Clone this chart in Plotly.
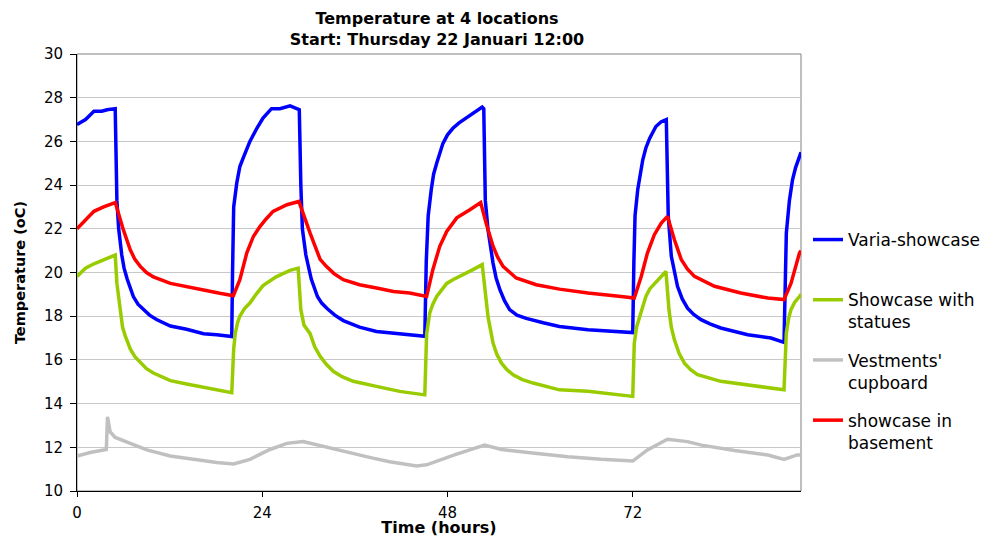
import plotly.graph_objects as go

# ---- data ----
varia_t = [0, 1.1, 2.2, 3.2, 3.9, 4.7, 4.95, 5.17, 5.4, 5.8, 6.1, 6.5, 7.3, 7.9, 8.6, 9.4, 10.3, 12.1, 14.2, 16.4, 18.1,
           19.8, 20.05,
           20.15, 20.3, 20.7, 21.1, 21.6, 22.0, 22.4, 23.3, 24.1, 25.2, 26.3, 27.6, 28.5, 28.8, 29.0, 29.2, 29.65,
           30.0, 30.35, 31.15, 31.7, 32.4, 33.4, 34.5, 36.6, 38.8, 41.0, 43.1, 45.06, 45.25, 45.5, 45.9, 46.2, 46.6,
           47.0, 47.4, 48.0, 48.7, 49.5, 50.45, 51.75, 52.5, 52.7,
           52.9, 53.25, 53.6, 53.9, 54.3, 54.8, 55.4, 56.05, 57.0, 58.2, 60.4, 62.5, 66.2, 70.5, 72.0, 72.15, 72.3,
           72.65, 73.0, 73.3, 73.7, 74.2, 75.0, 75.7, 76.35, 76.6, 77.0, 77.4, 77.8, 78.4, 79.1, 79.9, 80.85, 82.0,
           83.4, 86.9, 89.9, 91.6, 91.75, 91.9, 92.3, 92.7, 93.1, 93.6, 93.8]
varia_v = [26.77, 27.0, 27.38, 27.38, 27.45, 27.5, 27.5, 23.3, 22.0, 20.8, 20.2, 19.7, 18.9, 18.55, 18.3, 18.05, 17.85,
           17.55, 17.4, 17.2, 17.15, 17.1, 17.07,
           20.0, 23.0, 24.1, 24.85, 25.3, 25.7, 26.0, 26.6, 27.07, 27.5, 27.5, 27.63, 27.5, 27.45, 24.0, 22.0, 20.8,
           20.2, 19.7, 18.9, 18.6, 18.35, 18.05, 17.8, 17.5, 17.3, 17.23, 17.15, 17.08, 20.5, 22.6, 23.8, 24.5, 25.0,
           25.5, 25.9, 26.3, 26.6, 26.85, 27.07, 27.37, 27.57, 27.5,
           23.3, 21.96, 21.0, 20.43, 19.75, 19.2, 18.7, 18.3, 18.05, 17.9, 17.7, 17.53, 17.38, 17.3, 17.25, 20.5, 22.6,
           23.8, 24.6, 25.16, 25.7, 26.15, 26.68, 26.9, 27.0, 22.6, 20.74, 19.95, 19.37, 18.8, 18.37, 18.08, 17.84,
           17.65, 17.46, 17.15, 17.0, 16.8, 19.5, 21.8, 23.3, 24.24, 24.8, 25.3, 25.5]

statues_t = [0, 1.1, 2.2, 3.45, 4.74, 4.95, 5.17, 5.6, 5.9, 6.25, 6.9, 7.5, 8.2, 9.0, 9.9, 12.1, 14.2, 16.4, 18.5,
             20.05, 20.3, 20.5, 20.8, 21.1, 21.7, 22.4, 23.2, 24.1, 25.8, 27.6, 28.65, 29.0, 29.4, 30.2, 30.8, 31.5,
             32.3, 33.2, 34.4, 35.8, 38.8, 41.8, 45.06, 45.3, 45.7, 46.1, 46.6, 47.2, 47.9, 48.7, 49.6, 51.3, 52.5,
             52.8, 53.25, 53.9, 54.4, 55.0, 55.7, 56.5, 57.7, 59.1, 62.5, 66.2, 70.5, 72.0, 72.2, 72.5, 72.9, 73.3,
             73.7, 74.2, 74.8, 75.9, 76.3, 76.7, 77.0, 77.4, 78.0, 78.7, 79.5, 80.4, 83.4, 86.9, 91.6, 91.9, 92.2, 92.5,
             93.0, 93.6, 93.8]
statues_v = [19.82, 20.2, 20.4, 20.6, 20.8, 20.8, 19.5, 18.15, 17.5, 17.1, 16.5, 16.15, 15.9, 15.6, 15.4, 15.05, 14.9,
             14.75, 14.6, 14.5, 16.5, 17.2, 17.7, 18.0, 18.35, 18.6, 19.0, 19.4, 19.8, 20.1, 20.2, 18.3, 17.6, 17.2,
             16.6, 16.16, 15.8, 15.48, 15.22, 15.02, 14.79, 14.56, 14.4, 17.2, 18.15, 18.55, 18.9, 19.2, 19.5, 19.67,
             19.82, 20.13, 20.36, 19.5, 17.98, 16.77, 16.25, 15.85, 15.55, 15.32, 15.1, 14.94, 14.63, 14.56, 14.4,
             14.33, 16.76, 17.5, 17.98, 18.5, 18.9, 19.25, 19.5, 19.9, 20.05, 18.28, 17.5, 16.92, 16.3, 15.85, 15.55,
             15.32, 15.02, 14.86, 14.63, 17.22, 17.9, 18.3, 18.65, 18.9, 19.0]

vestments_t = [0, 1.7, 3.8, 3.95, 4.3, 4.95, 6.9, 9.05, 12.07, 15.5, 18.1, 20.3, 22.4, 25.0, 27.2, 29.3, 31.9, 34.9,
               37.9, 40.5, 44.0, 45.3, 47.0, 48.9, 52.8, 55.0, 59.3, 63.6, 67.9, 72.0, 73.9, 76.5, 79.1, 80.9, 85.2,
               89.5, 91.6, 93.3, 93.8]
vestments_v = [11.6, 11.76, 11.9, 13.4, 12.7, 12.45, 12.18, 11.88, 11.6, 11.42, 11.3, 11.24, 11.45, 11.9, 12.18, 12.26,
               12.03, 11.77, 11.54, 11.34, 11.15, 11.2, 11.42, 11.65, 12.1, 11.9, 11.73, 11.57, 11.45, 11.37, 11.88,
               12.37, 12.26, 12.1, 11.85, 11.65, 11.45, 11.65, 11.65]

basement_t = [0, 1.1, 2.2, 3.45, 4.96, 6.0, 6.9, 7.5, 8.2, 9.0, 9.9, 12.1, 14.2, 16.4, 18.5, 20.26, 21.1, 22.0, 22.85,
              23.7, 24.5, 25.4, 27.2, 28.75, 30.2, 31.0, 31.5, 32.3, 33.3, 34.5, 36.6, 38.8, 41.0, 43.1, 45.3, 46.1,
              47.0, 47.9, 49.2, 50.9, 52.3, 53.0, 53.9, 54.5, 55.2, 56.9, 59.5, 62.5, 66.2, 70.5, 72.2, 73.1, 73.9,
              74.8, 75.7, 76.5, 77.4, 78.3, 79.1, 80.0, 82.6, 86.0, 89.5, 91.6, 92.5, 93.6, 93.8]
basement_v = [22.0, 22.4, 22.8, 23.0, 23.2, 21.96, 21.04, 20.6, 20.28, 20.0, 19.8, 19.5, 19.37, 19.2, 19.05, 18.94,
              19.67, 20.9, 21.65, 22.1, 22.45, 22.8, 23.1, 23.25, 21.8, 21.04, 20.6, 20.28, 19.95, 19.67, 19.44, 19.29,
              19.13, 19.06, 18.9, 20.13, 21.2, 21.88, 22.5, 22.87, 23.2, 22.26, 21.2, 20.7, 20.28, 19.75, 19.44, 19.24,
              19.06, 18.9, 18.83, 19.82, 20.89, 21.73, 22.26, 22.57, 21.5, 20.58, 20.15, 19.82, 19.37, 19.06, 18.83,
              18.76, 19.5, 20.89, 21.0]

series_names = ["Varia-showcase<br> ", "Showcase with<br>statues", "Vestments'<br>cupboard", "showcase in<br>basement"]
series_colors = ["#0000FF", "#99CC00", "#C0C0C0", "#FF0000"]
x_ticks = [0, 24, 48, 72]
y_ticks = [10, 12, 14, 16, 18, 20, 22, 24, 26, 28, 30]

fig = go.Figure()
for i, (tx, vy) in enumerate([(varia_t, varia_v), (statues_t, statues_v),
                              (vestments_t, vestments_v), (basement_t, basement_v)]):
    fig.add_trace(go.Scatter(x=tx, y=vy, mode="lines", name=series_names[i], legendgroup=str(i),
                             line=dict(color=series_colors[i], width=3.5)))

# the page body adds an 8 px offset, so the figure is 8 px smaller than the window
W, H = 982, 529
L, R, T, B = 69, 189, 46, 46
PW = W - L - R
PH = H - T - B

fig.update_layout(
    width=W, height=H,
    margin=dict(l=L, r=R, t=T, b=B, autoexpand=False),
    paper_bgcolor="white", plot_bgcolor="white",
    font=dict(family="DejaVu Sans", color="black"),
    title=dict(text="Temperature at 4 locations<br>Start: Thursday 22 Januari 12:00",
               x=(429 - L) / PW, xref="paper", xanchor="center",
               y=1 - 16 / H, yref="container", yanchor="top",
               font=dict(family="DejaVu Sans", size=16, weight="bold", color="black")),
    legend=dict(x=(800 - L) / PW, xanchor="left", y=(H - B - 214) / PH, yanchor="top",
                font=dict(family="DejaVu Sans", size=17, color="black"),
                valign="top", tracegroupgap=13, bgcolor="rgba(0,0,0,0)", itemwidth=30),
    showlegend=True,
)

fig.update_xaxes(range=[0, 93.8], tickvals=x_ticks, ticktext=[str(v) for v in x_ticks],
                 showgrid=False, zeroline=False, showline=True, linecolor="black", linewidth=1,
                 ticks="outside", ticklen=5, tickcolor="black", ticklabelstandoff=3,
                 tickfont=dict(family="DejaVu Sans", size=15, color="black"),
                 title=dict(text="Time (hours)", standoff=0,
                            font=dict(family="DejaVu Sans", size=16, weight="bold", color="black")),
                 automargin=False)
fig.update_yaxes(range=[10, 30], tickvals=y_ticks, showgrid=True, gridcolor="#C8C8C8", gridwidth=1,
                 zeroline=False, showline=True, linecolor="black", linewidth=1,
                 ticks="outside", ticklen=6, tickcolor="black", ticklabelstandoff=4,
                 tickfont=dict(family="DejaVu Sans", size=15, color="black"),
                 title=dict(text="Temperature (oC)", standoff=14,
                            font=dict(family="DejaVu Sans", size=14.5, weight="bold", color="black")),
                 automargin=False)

# grey frame on top and right of the plot area
fig.add_shape(type="rect", xref="paper", yref="paper", x0=0, x1=1, y0=0, y1=1,
              line=dict(color="#808080", width=1), layer="below")

fig.write_html("out.html")
